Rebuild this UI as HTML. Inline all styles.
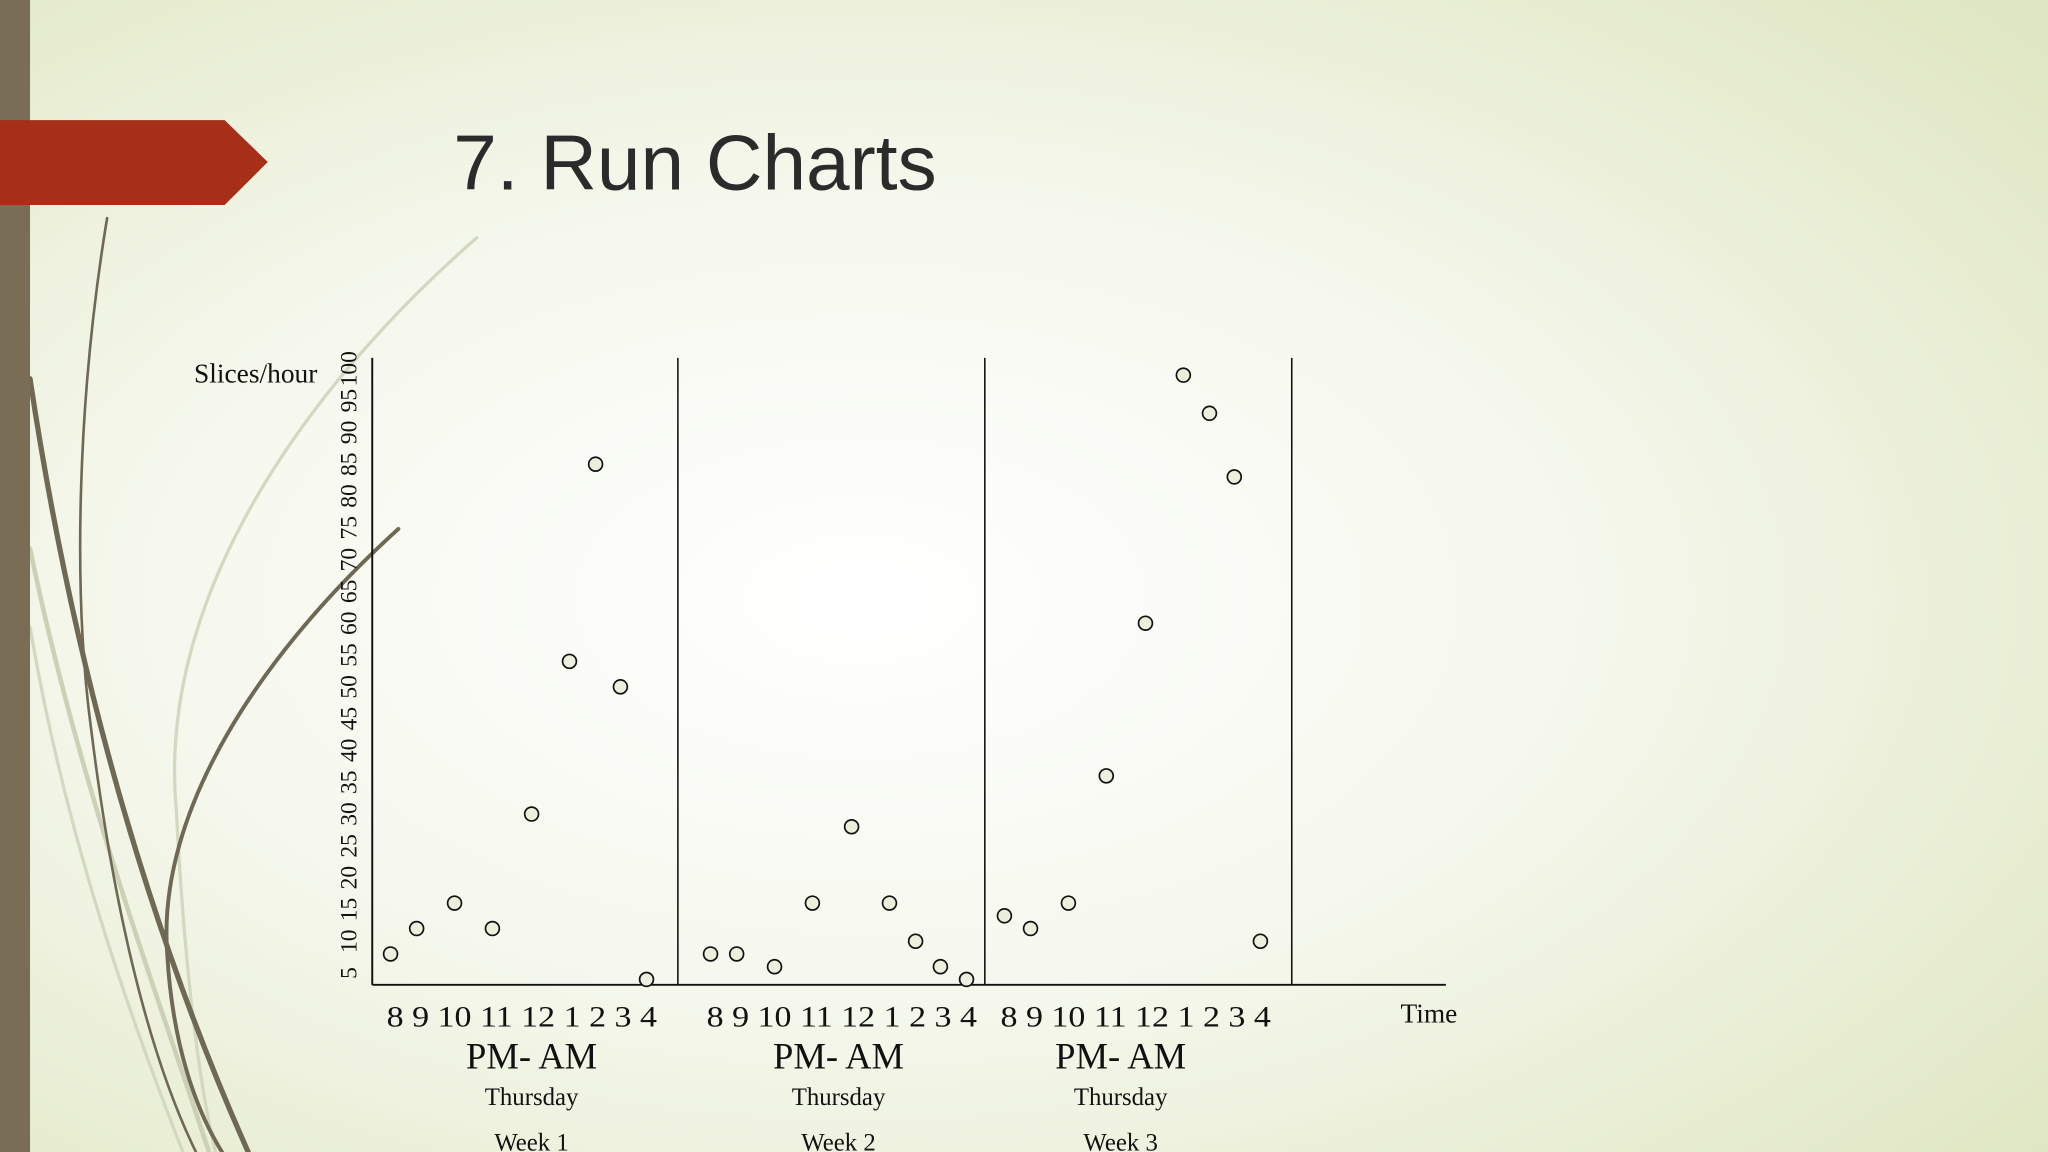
<!DOCTYPE html>
<html><head><meta charset="utf-8"><style>
html,body{margin:0;padding:0;width:2048px;height:1152px;overflow:hidden}
svg{display:block}
</style></head><body>
<svg id="chart" width="2048" height="1152" viewBox="0 0 1568 882" xmlns="http://www.w3.org/2000/svg">
<defs>
<radialGradient id="bg" cx="0.42" cy="0.52" r="0.75">
<stop offset="0" stop-color="#ffffff"/><stop offset="0.45" stop-color="#f6f8ee"/><stop offset="1" stop-color="#e0e7c3"/>
</radialGradient>
</defs>
<rect x="0" y="0" width="1568" height="882" fill="url(#bg)"/>
<g fill="none" stroke-linecap="round">
<path d="M365,182 C230,300 120,460 135,620 C140,720 150,820 165,882" stroke="#d3d8c0" stroke-width="2.5"/>
<path d="M23,420 C60,600 120,760 160,882" stroke="#ccd1b6" stroke-width="3.5"/>
<path d="M23,480 C50,640 100,780 140,882" stroke="#d3d8c0" stroke-width="2.5"/>
<path d="M82,167 C60,300 55,450 70,560 C85,680 110,800 150,882" stroke="#6e6854" stroke-width="2"/>
<path d="M23,290 C50,470 100,680 190,882" stroke="#6e6854" stroke-width="4"/>
<path d="M305,405 C200,500 120,620 128,730 C132,800 150,850 170,882" stroke="#6e6854" stroke-width="3"/>
</g>
<rect x="0" y="0" width="23" height="882" fill="#796d55"/>
<polygon points="0,92 172,92 205,124 172,157 0,157" fill="#a52f17"/>
<text x="347" y="145" font-family="Liberation Sans, sans-serif" font-size="60" fill="#2b2b2b">7. Run Charts</text>
<g id="plot"></g>
</svg>
<script>
const weeks = ["Week 1","Week 2","Week 3"];
const hours = ["8","9","10","11","12","1","2","3","4"];
const week1 = [8,12,16,12,30,54,85,50,4];
const week2 = [8,8,6,16,28,16,10,6,4];
const week3 = [14,12,16,36,60,99,93,83,10];
const yTicks = [5,10,15,20,25,30,35,40,45,50,55,60,65,70,75,80,85,90,95,100];
const series = [week1, week2, week3];

const NS = "http://www.w3.org/2000/svg";
const g = document.getElementById("plot");
const axisX = 285, axisTop = 274, axisBottom = 754, axisRight = 1107;
const weekStart = [299, 544, 769];
const hourOffset = [0,20,49,78,108,137,157,176,196];
function y(v){ return 745 - (v - 5) * 4.87; }
function x(w, i){ return weekStart[w] + hourOffset[i]; }
function mk(tag, attrs){ const e = document.createElementNS(NS, tag); for (const k in attrs) e.setAttribute(k, attrs[k]); g.appendChild(e); return e; }

let a = mk("line",{x1:axisX,y1:axisTop,x2:axisX,y2:axisBottom,stroke:"#111","stroke-width":1.5});


a = mk("line",{x1:axisX,y1:axisBottom,x2:axisRight,y2:axisBottom,stroke:"#111","stroke-width":1.5});


[519,754,989].forEach(dx=>{
  const d = mk("line",{x1:dx,y1:axisTop,x2:dx,y2:axisBottom,stroke:"#111","stroke-width":1.2});
  
  
});
yTicks.forEach(v=>{
  const t = mk("text",{x:0,y:0,transform:`translate(273,${y(v)}) rotate(-90)`,"text-anchor":"middle","font-family":"Liberation Serif, serif","font-size":18,fill:"#111"});
  t.textContent = v;
  
  
});
let t = mk("text",{x:243,y:293,"text-anchor":"end","font-family":"Liberation Serif, serif","font-size":21,fill:"#111"});
t.textContent = "Slices/hour";


t = mk("text",{x:1094,y:783,"text-anchor":"middle","font-family":"Liberation Serif, serif","font-size":21,fill:"#111"});
t.textContent = "Time";



const groupCenters = [407, 642, 858];
weeks.forEach((wk, w)=>{
  const tl = mk("text",{x:weekStart[w]-3,y:786,textLength:207,lengthAdjust:"spacingAndGlyphs","font-family":"Liberation Serif, serif","font-size":23,fill:"#111"});
  tl.textContent = hours.join(" ");
  
  
  let l = mk("text",{x:groupCenters[w],y:818,"text-anchor":"middle","font-family":"Liberation Serif, serif","font-size":28,fill:"#111"});
  l.textContent = "PM- AM";
  
  
  l = mk("text",{x:groupCenters[w],y:846,"text-anchor":"middle","font-family":"Liberation Serif, serif","font-size":19,fill:"#111"});
  l.textContent = "Thursday";
  
  
  l = mk("text",{x:groupCenters[w],y:881,"text-anchor":"middle","font-family":"Liberation Serif, serif","font-size":19,fill:"#111"});
  l.textContent = wk;
  
  
  series[w].forEach((v, i)=>{
    const c = mk("circle",{cx:x(w,i),cy:y(v),r:5.3,fill:"#eeeedc",stroke:"#111","stroke-width":1.3});
    
    
  });
});
</script>
</body></html>
